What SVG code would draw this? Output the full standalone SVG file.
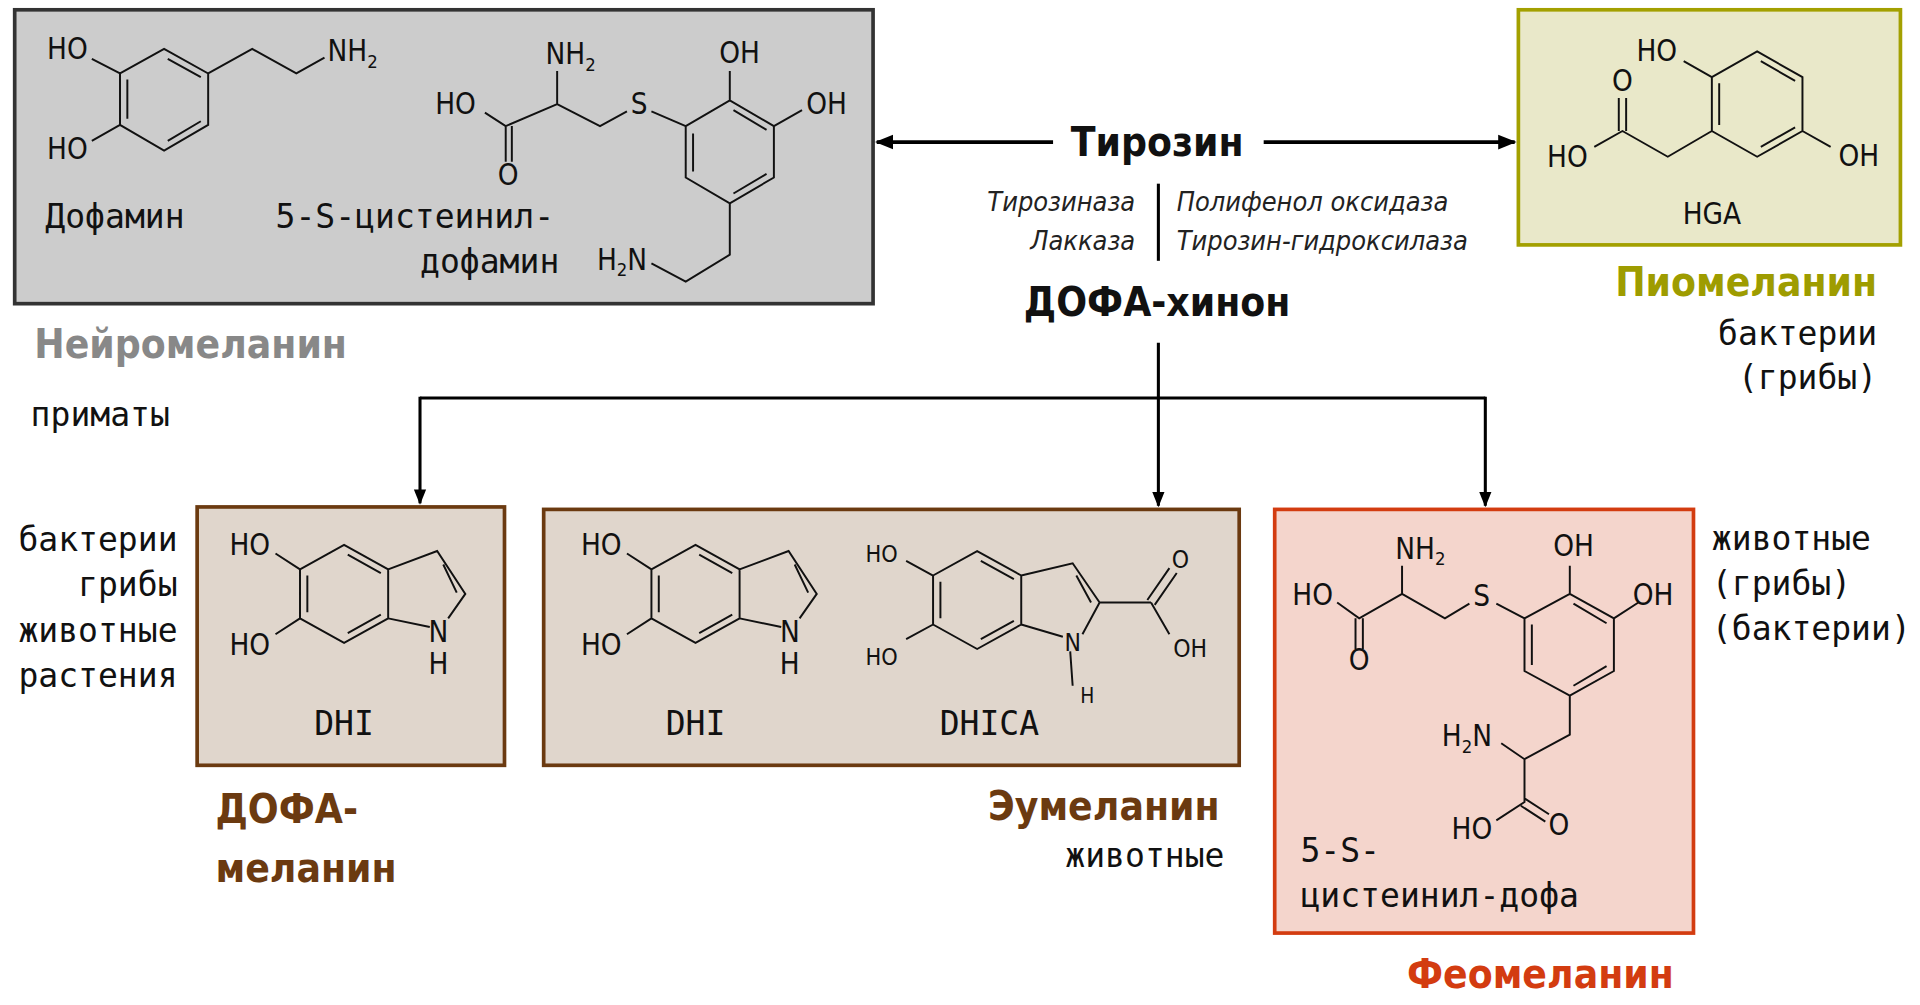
<svg xmlns="http://www.w3.org/2000/svg" width="1920" height="1005" viewBox="0 0 1920 1005">
<style>
.b{stroke:#111;stroke-width:1.6;fill:none}
.a{font-family:"DejaVu Sans Condensed","DejaVu Sans",sans-serif;font-size:24px;fill:#111;text-anchor:middle;dominant-baseline:central}
.s{font-size:15px}
.l{font-family:"DejaVu Sans Mono",monospace;font-size:27px;fill:#111;text-anchor:middle}
.m{font-family:"DejaVu Sans Mono",monospace;font-size:27px;fill:#111}
.h{font-family:"DejaVu Sans Condensed","DejaVu Sans",sans-serif;font-weight:bold;font-size:33px}
.e{font-family:"DejaVu Sans Condensed","DejaVu Sans",sans-serif;font-style:italic;font-size:22px;fill:#222}
.c{stroke:#000;stroke-width:3;fill:none}
.c2{stroke:#000;stroke-width:2.5;fill:none}
</style>
<defs>
<marker id="ar" viewBox="0 0 10 10" refX="9" refY="5" markerWidth="5" markerHeight="5" orient="auto"><path d="M0,1 L10,5 L0,9 Z" fill="#000"/></marker>
</defs>
<rect width="1920" height="1005" fill="#fff"/>
<g transform="scale(1.2245)">
<g id="neuromelanin">
<rect x="12" y="8" width="701" height="240" fill="#cccccc" stroke="#333" stroke-width="3"/>
<path class="b" d="M98,60 L134,40 L170,60 L170,102 L134,123 L98,102 Z M104,65 L104,97 M137,48 L164,63 M164,99 L137,115 M75,48 L98,60 M75,115 L98,102 M170,60 L206,40 L242,60 L265,47"/>
<text class="a" x="55" y="40">HO</text><text class="a" x="55" y="122">HO</text>
<text class="a" x="288" y="42">NH<tspan class="s" dy="8">2</tspan></text>
<text class="m" x="37" y="186">Дофамин</text>
<path class="b" d="M455,58 L455,85 L413,103 L396,92 M455,85 L490,103 L512,91 M413,103 L413,132 M418,103 L418,132 M532,91 L560,103 M560,103 L596,82 L632,103 L632,145 L596,166 L560,145 Z M566,109 L566,140 M599,90 L626,106 M626,142 L599,158 M596,82 L596,58 M632,103 L655,90 M596,166 L596,208 L560,230 L532,215"/>
<text class="a" x="466" y="44">NH<tspan class="s" dy="8">2</tspan></text>
<text class="a" x="372" y="85">HO</text><text class="a" x="415" y="143">O</text>
<text class="a" x="522" y="85">S</text><text class="a" x="604" y="43">OH</text><text class="a" x="675" y="85">OH</text>
<text class="a" x="508" y="212">H<tspan class="s" dy="8">2</tspan><tspan dy="-8">N</tspan></text>
<text class="m" x="225" y="186">5-S-цистеинил-</text>
<text class="m" x="343" y="223">дофамин</text>
<text class="h" x="28" y="292" fill="#888">Нейромеланин</text>
<text class="m" x="25" y="348">приматы</text>
</g>
<g id="tyrosine">
<text class="h" x="945" y="127" text-anchor="middle" font-size="30" fill="#111">Тирозин</text>
<text class="e" x="927" y="172" text-anchor="end">Тирозиназа</text>
<text class="e" x="927" y="204" text-anchor="end">Лакказа</text>
<text class="e" x="961" y="172">Полифенол оксидаза</text>
<text class="e" x="961" y="204">Тирозин-гидроксилаза</text>
<line x1="946" y1="150" x2="946" y2="213" stroke="#000" stroke-width="2.5"/>
</g>
<g id="dopaquinone">
<text class="h" x="945" y="258" text-anchor="middle" font-size="30" fill="#111">ДОФА-хинон</text>
</g>
<g id="pyomelanin">
<rect x="1240" y="8" width="312" height="192" fill="#e9e8c9" stroke="#a3a000" stroke-width="3"/>
<path class="b" d="M1398,63 L1435,42 L1472,63 L1472,107 L1435,128 L1398,107 Z M1404,68 L1404,102 M1438,50 L1466,66 M1466,104 L1438,120 M1375,50 L1398,63 M1472,107 L1495,120 M1398,107 L1362,128 L1325,107 L1302,120 M1322,107 L1322,80 M1328,107 L1328,80"/>
<text class="a" x="1353" y="42">HO</text><text class="a" x="1518" y="127">OH</text>
<text class="a" x="1325" y="66">O</text><text class="a" x="1280" y="128">HO</text>
<text class="a" x="1398" y="175">HGA</text>
<text class="h" x="1533" y="242" text-anchor="end" fill="#9e9c00">Пиомеланин</text>
<text class="m" x="1533" y="282" text-anchor="end">бактерии</text>
<text class="m" x="1533" y="318" text-anchor="end">(грибы)</text>
</g>
<g id="dopamelanin">
<rect x="161" y="414" width="251" height="211" fill="#e0d6cc" stroke="#6b3a10" stroke-width="3"/>
<path class="b" d="M245,465 L281,445 L317,465 L317,505 L281,525 L245,505 Z M251,470 L251,500 M284,453 L311,468 M284,517 L311,502 M317,465 L357,450 L380,485 L366,505 M351,512 L317,505 M362,461 L373,484 M225,452 L245,465 M225,518 L245,505"/>
<text class="a" x="204" y="445">HO</text><text class="a" x="204" y="527">HO</text>
<text class="a" x="358" y="516">N</text><text class="a" x="358" y="542">H</text>
<text class="l" x="281" y="600">DHI</text>
<text class="m" x="145" y="450" text-anchor="end">бактерии</text>
<text class="m" x="145" y="487" text-anchor="end">грибы</text>
<text class="m" x="145" y="524" text-anchor="end">животные</text>
<text class="m" x="145" y="561" text-anchor="end">растения</text>
<text class="h" x="176" y="672" fill="#6b3a10">ДОФА-</text>
<text class="h" x="176" y="720" fill="#6b3a10">меланин</text>
</g>
<g id="eumelanin">
<rect x="444" y="416" width="568" height="209" fill="#e0d6cc" stroke="#6b3a10" stroke-width="3"/>
<g transform="translate(287,0)">
<path class="b" d="M245,465 L281,445 L317,465 L317,505 L281,525 L245,505 Z M251,470 L251,500 M284,453 L311,468 M284,517 L311,502 M317,465 L357,450 L380,485 L366,505 M351,512 L317,505 M362,461 L373,484 M225,452 L245,465 M225,518 L245,505"/>
<text class="a" x="204" y="445">HO</text><text class="a" x="204" y="527">HO</text>
<text class="a" x="358" y="516">N</text><text class="a" x="358" y="542">H</text>
<text class="l" x="281" y="600">DHI</text>
</g>
<path class="b" d="M762,470 L798,450 L834,470 L834,510 L798,530 L762,510 Z M768,475 L768,505 M801,458 L828,473 M801,522 L828,507 M834,470 L876,460 L898,492 L884,518 M868,520 L834,510 M879,470 L891,492 M898,492 L940,492 M937,490 L955,464 M943,494 L961,468 M940,492 L955,518 M874,532 L876,560 M740,458 L762,470 M740,522 L762,510"/>
<text class="a" x="720" y="452" style="font-size:19px">HO</text><text class="a" x="720" y="536" style="font-size:19px">HO</text>
<text class="a" x="876" y="525" style="font-size:20px">N</text><text class="a" x="888" y="568" style="font-size:17px">H</text>
<text class="a" x="964" y="457" style="font-size:20px">O</text><text class="a" x="972" y="530" style="font-size:20px">OH</text>
<text class="l" x="808" y="600">DHICA</text>
<text class="h" x="996" y="670" text-anchor="end" fill="#6b3a10">Эумеланин</text>
<text class="m" x="1000" y="708" text-anchor="end">животные</text>
</g>
<g id="pheomelanin">
<rect x="1041" y="416" width="342" height="346" fill="#f4d5cc" stroke="#d33c10" stroke-width="3"/>
<path class="b" d="M1145,462 L1145,485 L1110,505 L1092,492 M1145,485 L1180,505 L1200,493 M1107,505 L1107,530 M1113,505 L1113,530 M1222,493 L1245,505 M1245,505 L1282,485 L1318,505 L1318,548 L1282,568 L1245,548 Z M1251,510 L1251,543 M1285,493 L1312,509 M1312,544 L1285,560 M1282,485 L1282,462 M1318,505 L1338,492 M1282,568 L1282,600 L1245,620 L1226,607 M1245,620 L1245,655 L1222,670 M1245,652 L1265,665 M1242,658 L1262,671"/>
<text class="a" x="1160" y="448">NH<tspan class="s" dy="8">2</tspan></text>
<text class="a" x="1072" y="486">HO</text><text class="a" x="1110" y="539">O</text>
<text class="a" x="1210" y="487">S</text><text class="a" x="1285" y="446">OH</text><text class="a" x="1350" y="486">OH</text>
<text class="a" x="1198" y="601">H<tspan class="s" dy="8">2</tspan><tspan dy="-8">N</tspan></text>
<text class="a" x="1202" y="677">HO</text><text class="a" x="1273" y="674">O</text>
<text class="m" x="1062" y="704">5-S-</text>
<text class="m" x="1062" y="741">цистеинил-дофа</text>
<text class="h" x="1258" y="807" text-anchor="middle" fill="#d33c10">Феомеланин</text>
<text class="m" x="1398" y="449">животные</text>
<text class="m" x="1398" y="486">(грибы)</text>
<text class="m" x="1398" y="523">(бактерии)</text>
</g>
<g id="connectors">
<line class="c" x1="860" y1="116" x2="716" y2="116" marker-end="url(#ar)"/>
<line class="c" x1="1032" y1="116" x2="1237" y2="116" marker-end="url(#ar)"/>
<path class="c2" d="M946,280 L946,325 M343,325 L1213,325"/>
<line class="c2" x1="343" y1="324" x2="343" y2="411" marker-end="url(#ar)"/>
<line class="c2" x1="946" y1="325" x2="946" y2="413" marker-end="url(#ar)"/>
<line class="c2" x1="1213" y1="324" x2="1213" y2="413" marker-end="url(#ar)"/>
</g>
</g>
</svg>
